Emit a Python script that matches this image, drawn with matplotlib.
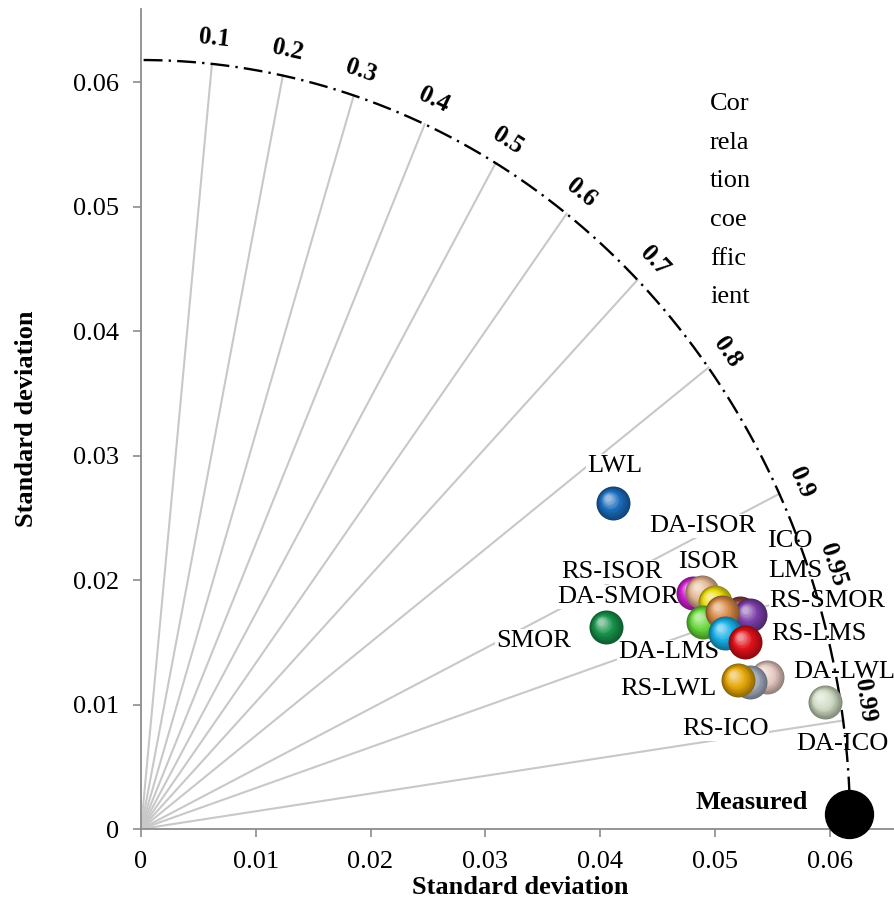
import numpy as np
import matplotlib.pyplot as plt
import matplotlib.colors as mcolors
from matplotlib.transforms import offset_copy

plt.rcParams['font.family'] = ['Liberation Serif', 'DejaVu Serif']

# reference (measured) standard deviation
ref_std = 0.0618
measured_x = 0.0617
measured_y = 0.0012

# correlation rays
corr_ticks = [0.1, 0.2, 0.3, 0.4, 0.5, 0.6, 0.7, 0.8, 0.9, 0.95, 0.99]
corr_labels = ['0.1', '0.2', '0.3', '0.4', '0.5', '0.6', '0.7', '0.8', '0.9', '0.95', '0.99']

# axis ticks
std_ticks = [0, 0.01, 0.02, 0.03, 0.04, 0.05, 0.06]
std_tick_labels = ['0', '0.01', '0.02', '0.03', '0.04', '0.05', '0.06']

# models (in drawing order, back to front)
model_names = ['RS-ISOR', 'ISOR', 'DA-SMOR', 'ICO', 'LMS', 'DA-LMS', 'DA-ISOR',
               'RS-SMOR', 'RS-LMS', 'DA-LWL', 'RS-ICO', 'RS-LWL', 'DA-ICO', 'LWL', 'SMOR']
model_x = [0.04813, 0.04891, 0.05004, 0.05222, 0.05309, 0.04900, 0.05065,
           0.05092, 0.05266, 0.05458, 0.05309, 0.05205, 0.05963, 0.04115, 0.04054]
model_y = [0.01896, 0.01904, 0.01823, 0.01735, 0.01719, 0.01663, 0.01743,
           0.01574, 0.01502, 0.01221, 0.01181, 0.01197, 0.01020, 0.02618, 0.01622]
model_colors = ['#d21ed2', '#e6b896', '#ecdc10', '#8a3e34', '#7b3fa8', '#6ad83c', '#d68a48',
                '#18aee6', '#e0101a', '#e8cac4', '#a8b2c4', '#e6a80a', '#cfdcc4', '#1b6cbc', '#18924a']

# label placement (data coords of text centre / baseline)
label_pos = {
    'LWL': (0.04124, 0.02867), 'DA-ISOR': (0.04891, 0.02386), 'ICO': (0.05658, 0.02265),
    'LMS': (0.05702, 0.02024), 'RS-SMOR': (0.05981, 0.01783), 'RS-LMS': (0.05911, 0.01518),
    'DA-LWL': (0.06129, 0.01213), 'DA-ICO': (0.06112, 0.00635), 'RS-ICO': (0.05092, 0.00755),
    'RS-LWL': (0.04595, 0.01076), 'DA-LMS': (0.04595, 0.01373), 'SMOR': (0.03418, 0.01462),
    'DA-SMOR': (0.04159, 0.01815), 'RS-ISOR': (0.04106, 0.02016), 'ISOR': (0.04943, 0.02096),
}

fig = plt.figure(figsize=(8.95, 8.99), dpi=100)
ax = fig.add_axes([141 / 895, 1 - 829 / 899, (895 - 141) / 895, (829 - 9) / 899])
ax.set_xlim(0, 0.0657)
ax.set_ylim(0, 0.0659)

grey = '#8c8c8c'
for side in ['top', 'right']:
    ax.spines[side].set_visible(False)
for side in ['left', 'bottom']:
    ax.spines[side].set_color(grey)
    ax.spines[side].set_linewidth(1.3)
ax.set_xticks(std_ticks)
ax.set_xticklabels(std_tick_labels)
ax.set_yticks(std_ticks)
ax.set_yticklabels(std_tick_labels)
ax.tick_params(length=6, width=1.2, color=grey, pad=10, labelsize=19)

# correlation rays
for c in corr_ticks:
    th = np.arccos(c)
    ax.plot([0, ref_std * np.cos(th)], [0, ref_std * np.sin(th)],
            color='#c8c8c8', lw=1.5, zorder=1)

# reference arc
ang = np.linspace(0, np.pi / 2, 300)
ax.plot(ref_std * np.cos(ang), ref_std * np.sin(ang), color='black', lw=1.7,
        linestyle=(0, (8, 2.6, 1, 2.6)), zorder=3)

# correlation labels, rotated along the arc
r_lab = 0.0639
for c, lab in zip(corr_ticks, corr_labels):
    th = np.arccos(c)
    if c > 0.9:
        th += np.radians(1.2)
    x, y = r_lab * np.cos(th), r_lab * np.sin(th)
    p0 = ax.transData.transform((x, y))
    p1 = ax.transData.transform((x + 0.001 * np.sin(th), y - 0.001 * np.cos(th)))
    rot = np.degrees(np.arctan2(p1[1] - p0[1], p1[0] - p0[0]))
    ax.text(x, y, lab, rotation=rot, rotation_mode='anchor', ha='center', va='center',
            fontsize=18, fontweight='bold', zorder=3)


def sphere(x, y, color, diam, z):
    base = np.array(mcolors.to_rgb(color))
    n = 16
    for i in range(n):
        t = i / (n - 1)
        d = diam * (1 - 0.82 * t)
        off = 0.16 * diam * t
        if t < 0.5:
            col = base * (0.62 + 0.76 * t)
        else:
            col = base + (1 - base) * (t - 0.5) * 1.1
        tr = offset_copy(ax.transData, fig=fig, x=-off, y=off, units='dots')
        ax.plot([x], [y], 'o', ms=d * 0.72, color=np.clip(col, 0, 1), mec='none',
                transform=tr, zorder=z)


for k, (x, y, col) in enumerate(zip(model_x, model_y, model_colors)):
    sphere(x, y, col, 34, 5 + k * 0.01)

# labels
for name in model_names:
    lx, ly = label_pos[name]
    ax.text(lx, ly, name, ha='center', va='baseline', fontsize=19, zorder=2,
            bbox=dict(facecolor='white', edgecolor='none', pad=0.5))

# measured
ax.plot([measured_x], [measured_y], 'o', ms=34.5, color='black', zorder=6, clip_on=False)
ax.text(0.0581, 0.0012, 'Measured', ha='right', va='bottom', fontsize=19,
        fontweight='bold', zorder=6)

fig.text(520 / 895, 1 - 887 / 899, 'Standard deviation', ha='center', va='center',
         fontsize=19, fontweight='bold')
fig.text(27 / 895, 1 - 419 / 899, 'Standard deviation', ha='center', va='center',
         rotation=90, fontsize=19, fontweight='bold')
fig.text(710 / 895, 1 - 93 / 899, 'Cor\nrela\ntion\ncoe\nffic\nient', ha='left', va='top',
         fontsize=19, linespacing=1.98)

fig.savefig('out.png', dpi=100)
